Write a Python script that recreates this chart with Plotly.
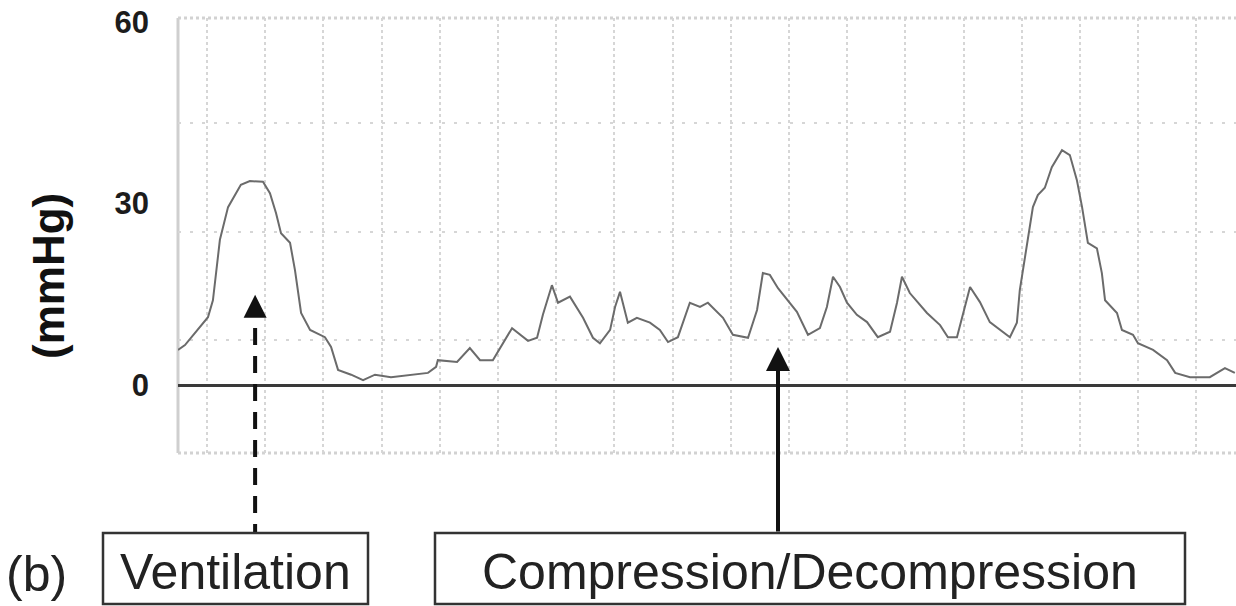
import plotly.graph_objects as go

# Airway pressure trace: time (s) and pressure (mmHg)
time_s = [
    0.000, 0.024, 0.103, 0.120, 0.144, 0.172, 0.216, 0.247, 0.292, 0.316,
    0.337, 0.354, 0.385, 0.402, 0.423, 0.454, 0.505, 0.526, 0.550, 0.595,
    0.636, 0.677, 0.732, 0.859, 0.887, 0.893, 0.959, 1.003, 1.038, 1.082,
    1.148, 1.203, 1.234, 1.254, 1.285, 1.306, 1.347, 1.392, 1.426, 1.450,
    1.485, 1.502, 1.519, 1.546, 1.577, 1.622, 1.656, 1.684, 1.718, 1.759,
    1.794, 1.821, 1.873, 1.907, 1.959, 1.990, 2.010, 2.034, 2.062, 2.103,
    2.127, 2.165, 2.206, 2.230, 2.251, 2.275, 2.299, 2.333, 2.368, 2.405,
    2.447, 2.471, 2.488, 2.515, 2.574, 2.619, 2.646, 2.677, 2.698, 2.722,
    2.756, 2.790, 2.859, 2.883, 2.893, 2.904, 2.921, 2.938, 2.955, 2.979,
    3.003, 3.038, 3.065, 3.089, 3.107, 3.117, 3.127, 3.158, 3.175, 3.186,
    3.227, 3.244, 3.282, 3.299, 3.351, 3.399, 3.427, 3.478, 3.546, 3.598,
    3.632,
]
pressure_mmhg = [
    5.8, 6.6, 11.2, 14.0, 24.0, 29.4, 33.1, 33.7, 33.6, 31.7,
    28.4, 25.1, 23.5, 19.0, 11.9, 9.1, 7.9, 6.3, 2.5, 1.7,
    0.8, 1.7, 1.3, 2.0, 3.0, 4.1, 3.8, 6.1, 4.1, 4.1,
    9.4, 7.3, 7.8, 11.6, 16.5, 13.6, 14.6, 11.1, 7.8, 6.9,
    9.1, 12.9, 15.4, 10.3, 11.1, 10.3, 9.1, 7.1, 7.9, 13.6,
    12.9, 13.6, 11.1, 8.3, 7.8, 12.4, 18.5, 18.2, 16.0, 13.6,
    12.1, 8.3, 9.4, 12.9, 17.9, 16.2, 13.6, 11.6, 10.4, 7.9,
    8.8, 13.6, 17.9, 15.2, 11.9, 9.9, 7.9, 7.9, 11.6, 16.2,
    13.7, 10.4, 7.9, 10.3, 15.7, 19.0, 24.0, 29.4, 31.4, 32.6,
    36.0, 38.8, 38.0, 33.9, 29.4, 26.1, 23.5, 22.6, 18.5, 14.0,
    11.9, 9.1, 8.3, 6.9, 5.8, 4.1, 2.0, 1.3, 1.3, 2.8,
    2.0,
]

y_tick_values = [0, 30, 60]
y_tick_labels = ["0", "30", "60"]
y_title = "(mmHg)"
panel_label = "(b)"
event_labels = ["Ventilation", "Compression/Decompression"]
# Arrow tips (time s, pressure mmHg) pointing at each event
event_arrow_time = [0.265, 2.062]
event_arrow_pressure = [14.9, 6.3]

# Figure geometry (pixels)
W, H = 1236, 606
L, R, T, B = 178, 0, 18, 153
plot_w = W - L - R
plot_h = H - T - B
X_RANGE = [0.0, 3.636]
Y_RANGE = [-11.24, 60.66]

FONT = "Liberation Sans, Arial, sans-serif"
GRID = "#d6d6d6"


def px_x(px):
    return (px - L) / plot_w


def px_y(py):
    return (H - B - py) / plot_h


fig = go.Figure()

fig.add_trace(go.Scatter(
    x=time_s, y=pressure_mmhg, mode="lines",
    line=dict(color="#6b6b6b", width=2),
    hoverinfo="skip", showlegend=False,
))
# carrier trace for the horizontal grid axis
fig.add_trace(go.Scatter(
    x=[X_RANGE[0]], y=[0], yaxis="y2", mode="lines",
    line=dict(width=0), hoverinfo="skip", showlegend=False,
))

fig.update_layout(
    width=W, height=H,
    margin=dict(l=L, r=R, t=T, b=B, pad=0),
    paper_bgcolor="white", plot_bgcolor="white",
    showlegend=False,
    xaxis=dict(
        range=X_RANGE, showticklabels=False, ticks="",
        showgrid=True, tick0=0.1, dtick=0.2,
        gridcolor=GRID, gridwidth=2, griddash="3px,3px",
        zeroline=False, showline=False, fixedrange=True,
    ),
    yaxis=dict(
        range=Y_RANGE, tickmode="array",
        tickvals=y_tick_values, ticktext=y_tick_labels,
        ticks="", ticklabelstandoff=28,
        tickfont=dict(family=FONT, size=31, color="#1c1c1c", weight="bold"),
        showgrid=False, zeroline=True,
        zerolinecolor="#3a3a3a", zerolinewidth=3,
        showline=False, fixedrange=True,
    ),
    yaxis2=dict(
        range=[-0.04, 3.97], overlaying="y", side="left",
        tickmode="array", tickvals=[1, 2, 3],
        showticklabels=False, ticks="",
        showgrid=True, gridcolor=GRID, gridwidth=2, griddash="3px,9px",
        zeroline=False, showline=False, fixedrange=True,
    ),
)

shapes = []
# plot frame: solid left edge, dotted top and bottom edges
shapes.append(dict(type="line", xref="paper", yref="paper", x0=0, x1=0, y0=0, y1=1,
                   line=dict(color="#cfcfcf", width=3), layer="below"))
for yy in (0, 1):
    shapes.append(dict(type="line", xref="paper", yref="paper", x0=0, x1=1.01, y0=yy, y1=yy,
                       line=dict(color="#d2d2d2", width=3, dash="3px,3px"), layer="below"))

# dashed shaft of the ventilation arrow
shapes.append(dict(type="line", xref="x", yref="paper",
                   x0=event_arrow_time[0], x1=event_arrow_time[0],
                   y0=px_y(328), y1=px_y(533),
                   line=dict(color="#111111", width=4, dash="17px,11px")))

# label boxes
boxes = [(103, 368), (435, 1185)]
for x0, x1 in boxes:
    shapes.append(dict(type="rect", xref="paper", yref="paper",
                       x0=px_x(x0), x1=px_x(x1), y0=px_y(533), y1=px_y(604),
                       line=dict(color="#333333", width=2.5), fillcolor="rgba(0,0,0,0)"))
fig.update_layout(shapes=shapes)

annotations = []
# arrow heads / arrows pointing at the waveform
annotations.append(dict(x=event_arrow_time[0], y=event_arrow_pressure[0], xref="x", yref="y",
                        text="", showarrow=True, arrowhead=2, arrowsize=1.15,
                        arrowwidth=4, arrowcolor="#111111", ax=0, ay=22))
annotations.append(dict(x=event_arrow_time[1], y=event_arrow_pressure[1], xref="x", yref="y",
                        text="", showarrow=True, arrowhead=2, arrowsize=1.2,
                        arrowwidth=4, arrowcolor="#111111", ax=0, ay=186))

# axis title
annotations.append(dict(x=px_x(48), y=px_y(276), xref="paper", yref="paper",
                        text=y_title, textangle=-90, showarrow=False,
                        font=dict(family=FONT, size=44, color="#111111", weight="bold"),
                        xanchor="center", yanchor="middle"))

# panel letter and event labels
label_font = dict(family=FONT, size=50, color="#222222")
annotations.append(dict(x=px_x(36), y=px_y(574), xref="paper", yref="paper",
                        text=panel_label, showarrow=False, font=label_font,
                        xanchor="center", yanchor="middle"))
for (x0, x1), txt in zip(boxes, event_labels):
    annotations.append(dict(x=px_x((x0 + x1) / 2), y=px_y(572), xref="paper", yref="paper",
                            text=txt, showarrow=False, font=label_font,
                            xanchor="center", yanchor="middle"))
fig.update_layout(annotations=annotations)

fig.write_html("out.html")
